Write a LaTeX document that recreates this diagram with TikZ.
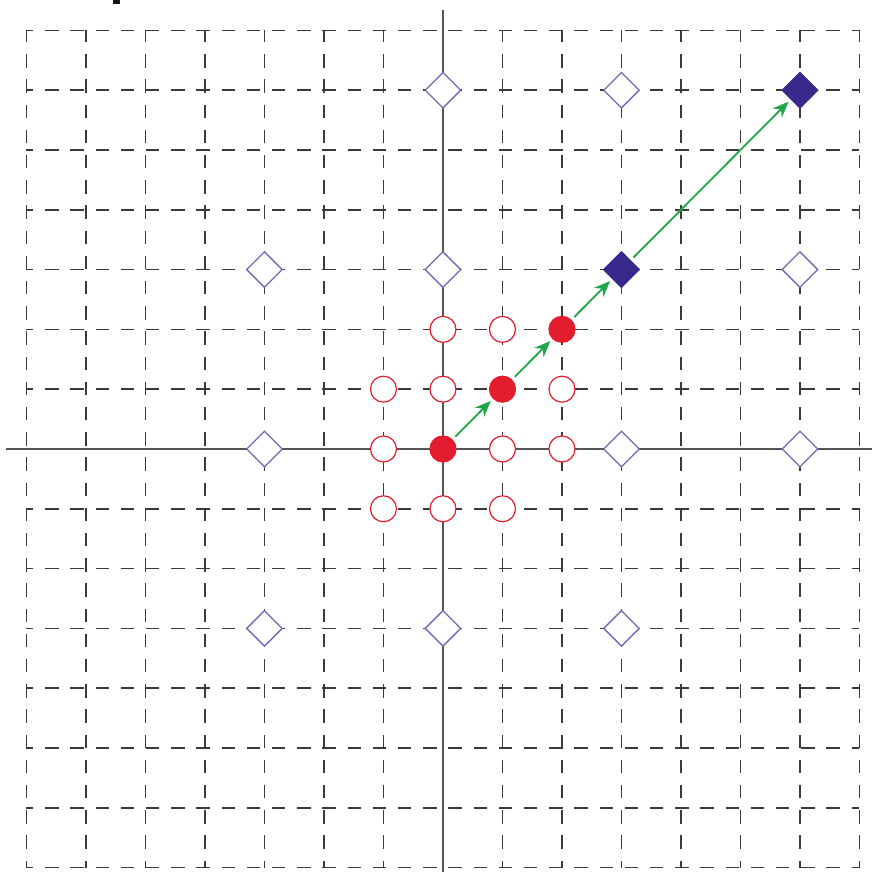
\documentclass[tikz,border=0pt]{standalone}
\usetikzlibrary{shapes.geometric,arrows.meta}
\definecolor{gridc}{HTML}{3A3A3A}
\definecolor{axisc}{HTML}{555555}
\definecolor{redc}{HTML}{E31D2D}
\definecolor{violc}{HTML}{6E6AB4}
\definecolor{navyc}{HTML}{372A8C}
\definecolor{greenc}{HTML}{1FA64A}
\begin{document}
\begin{tikzpicture}[x=59.5pt,y=59.8pt,
 gridline/.style={gridc,line width=1.7pt,dash pattern=on 13.5pt off 11.7pt,dash phase=6.5pt},
 axisline/.style={axisc,line width=1.6pt},
 hollowdot/.style={circle,draw=redc,fill=white,line width=1.2pt,minimum size=26pt,inner sep=0pt},
 fulldot/.style={circle,draw=redc,fill=redc,line width=1.2pt,minimum size=26pt,inner sep=0pt},
 hollowdia/.style={diamond,draw=violc,fill=white,line width=1.3pt,minimum size=36pt,inner sep=0pt},
 fulldia/.style={diamond,draw=navyc,fill=navyc,line width=1.3pt,minimum size=36pt,inner sep=0pt},
 jump/.style={greenc,line width=1.8pt,-{Stealth[length=16pt,width=13pt]},shorten <=4pt,shorten >=3pt}]
\useasboundingbox (-7.445,-7.074) rectangle (7.210,7.508);
\fill[white] (-7.445,-7.074) rectangle (7.210,7.508);
% dashed grid
\foreach \i in {-7,...,7} {
  \draw[gridline] (\i,-7) -- (\i,7);
  \draw[gridline] (-7,\i) -- (7,\i);
}
% axes
\draw[axisline] (0,-7.074) -- (0,7.34);
\draw[axisline] (-7.34,0) -- (7.210,0);
% cropped mark at top
\fill[black!90] (-5.546,7.441) rectangle (-5.429,7.508);
% diamonds
\node[hollowdia] (d06) at (0,6) {};
\node[hollowdia] (d36) at (3,6) {};
\node[hollowdia] (dm33) at (-3,3) {};
\node[hollowdia] (d03) at (0,3) {};
\node[hollowdia] (d63) at (6,3) {};
\node[hollowdia] (dm30) at (-3,0) {};
\node[hollowdia] (d30) at (3,0) {};
\node[hollowdia] (d60) at (6,0) {};
\node[hollowdia] (dm3m3) at (-3,-3) {};
\node[hollowdia] (d0m3) at (0,-3) {};
\node[hollowdia] (d3m3) at (3,-3) {};
\node[fulldia] (d33) at (3,3) {};
\node[fulldia] (d66) at (6,6) {};
% circles
\node[hollowdot] (c02) at (0,2) {};
\node[hollowdot] (c12) at (1,2) {};
\node[hollowdot] (cm11) at (-1,1) {};
\node[hollowdot] (c01) at (0,1) {};
\node[hollowdot] (c21) at (2,1) {};
\node[hollowdot] (cm10) at (-1,0) {};
\node[hollowdot] (c10) at (1,0) {};
\node[hollowdot] (c20) at (2,0) {};
\node[hollowdot] (cm1m1) at (-1,-1) {};
\node[hollowdot] (c0m1) at (0,-1) {};
\node[hollowdot] (c1m1) at (1,-1) {};
\node[fulldot] (c00) at (0,0) {};
\node[fulldot] (c11) at (1,1) {};
\node[fulldot] (c22) at (2,2) {};
% arrows
\draw[jump] (c00) -- (c11);
\draw[jump] (c11) -- (c22);
\draw[jump] (c22) -- (d33);
\draw[jump] (d33) -- (d66);
\end{tikzpicture}
\end{document}
